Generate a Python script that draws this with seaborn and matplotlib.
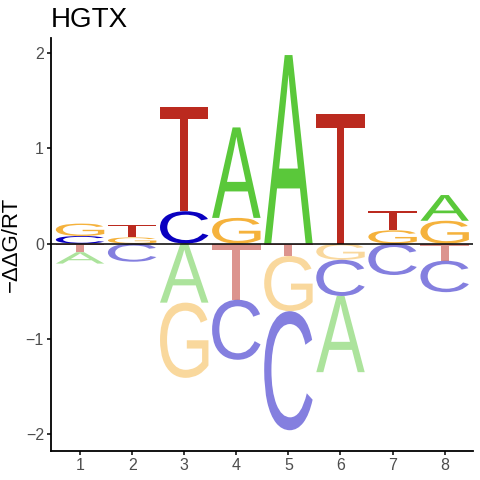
"""Energy sequence logo for HGTX."""

import numpy as np
import matplotlib
matplotlib.use("Agg")
import matplotlib.pyplot as plt
import seaborn as sns
from matplotlib.textpath import TextPath
from matplotlib.font_manager import FontProperties
from matplotlib.patches import PathPatch
from matplotlib.transforms import Affine2D

positions = [1, 2, 3, 4, 5, 6, 7, 8]
energy_A = [-0.12, 0.00, -0.62, 0.95, 1.98, -0.80, 0.00, 0.27]
energy_C = [0.08, -0.19, 0.34, -0.63, -1.25, -0.38, -0.33, -0.33]
energy_G = [0.13, 0.065, -0.79, 0.27, -0.58, -0.17, 0.14, 0.24]
energy_T = [-0.09, 0.135, 1.09, -0.59, -0.13, 1.365, 0.20, -0.18]
y_ticks = [-2, -1, 0, 1, 2]

base_colors = {'A': '#5ac83a', 'C': '#0a00c0', 'G': '#f5b23c', 'T': '#bb2a1f'}
font = FontProperties(family='Liberation Sans')
letter_width = 0.93


def letter_patch(ax, letter, x, y0, y1, alpha):
    """Stretch a glyph so it fills the box [x-w/2, x+w/2] x [y0, y1]."""
    path = TextPath((0, 0), letter, size=1, prop=font)
    ext = path.get_extents()
    tr = (Affine2D()
          .translate(-ext.x0, -ext.y0)
          .scale(letter_width / ext.width, (y1 - y0) / ext.height)
          .translate(x - letter_width / 2, y0))
    patch = PathPatch(tr.transform_path(path), facecolor=base_colors[letter],
                      edgecolor='none', alpha=alpha)
    ax.add_patch(patch)


sns.set_theme(style="ticks")
plt.rcParams['font.family'] = ['Liberation Sans', 'DejaVu Sans']

fig = plt.figure(figsize=(4.8, 4.8), dpi=100)
ax = fig.add_axes([0.106, 0.061, 0.879, 0.860])

table = {'A': energy_A, 'C': energy_C, 'G': energy_G, 'T': energy_T}
for i, pos in enumerate(positions):
    vals = [(b, table[b][i]) for b in 'ACGT']
    # positive letters: smallest next to the baseline
    top = 0.0
    for b, v in sorted([p for p in vals if p[1] > 0], key=lambda p: p[1]):
        letter_patch(ax, b, pos, top, top + v, 1.0)
        top += v
    # negative letters: smallest next to the baseline, going down
    bottom = 0.0
    for b, v in sorted([p for p in vals if p[1] < 0], key=lambda p: -p[1]):
        letter_patch(ax, b, pos, bottom + v, bottom, 0.5)
        bottom += v

ax.axhline(0, color='black', lw=1.1, zorder=3)

ax.set_xlim(0.44, 8.54)
ax.set_ylim(-2.175, 2.16)
ax.set_xticks(positions)
ax.set_yticks(y_ticks)
sns.despine(ax=ax)
for side in ['left', 'bottom']:
    ax.spines[side].set_color('black')
    ax.spines[side].set_linewidth(1.3)
ax.tick_params(axis='both', length=3, width=1.1, color='black',
               labelsize=11.5, labelcolor='#4d4d4d', pad=2)
ax.set_ylabel('\u2212\u0394\u0394G/RT', fontsize=16, color='black', labelpad=3)
ax.set_xlabel('')
ax.set_title('HGTX', loc='left', fontsize=20, color='black', pad=8)

fig.savefig('out.png', dpi=100)
